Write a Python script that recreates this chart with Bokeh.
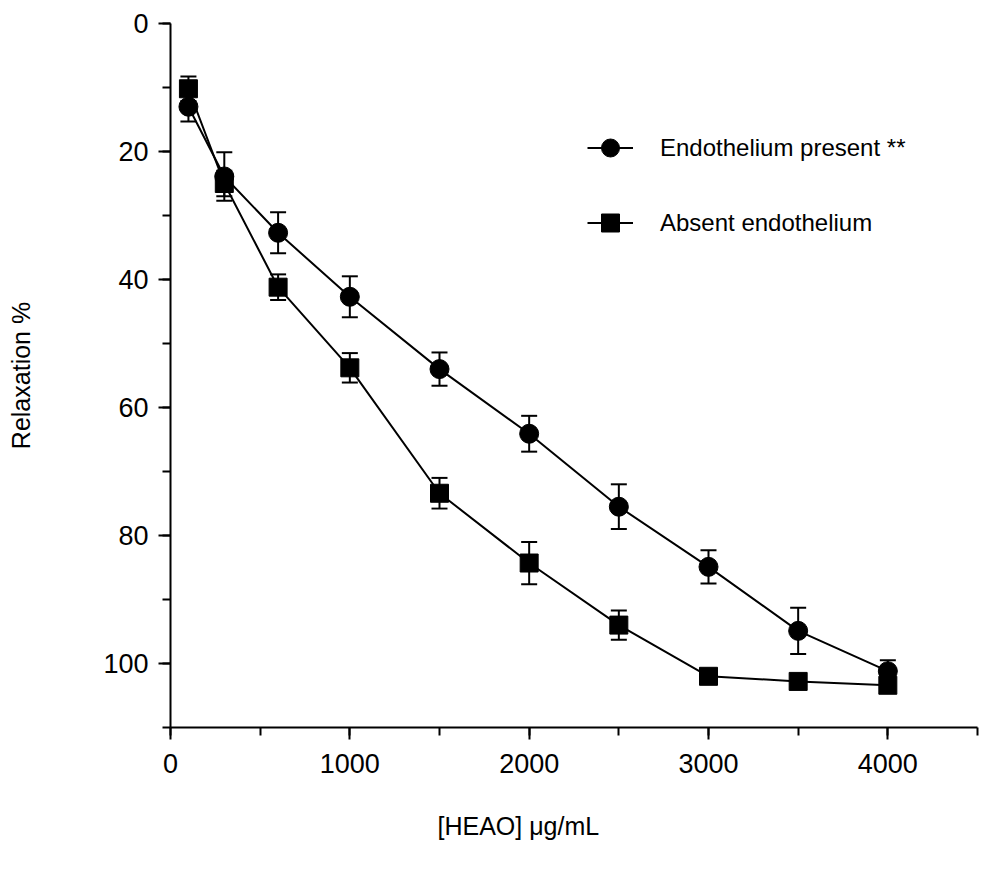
from bokeh.plotting import figure
from bokeh.models import (ColumnDataSource, Range1d, SingleIntervalTicker, Whisker, TeeHead,
                          Legend, LegendItem, Title)
from bokeh.embed import file_html
from bokeh.resources import INLINE

# ---- data ----
conc = [100, 300, 600, 1000, 1500, 2000, 2500, 3000, 3500, 4000]
present_mean = [13.0, 23.9, 32.7, 42.7, 54.0, 64.1, 75.5, 84.9, 94.9, 101.2]
present_err = [2.3, 3.8, 3.2, 3.2, 2.6, 2.8, 3.5, 2.6, 3.6, 1.7]
absent_mean = [10.2, 25.0, 41.2, 53.8, 73.4, 84.3, 94.0, 102.0, 102.8, 103.4]
absent_err = [1.9, 2.0, 2.0, 2.3, 2.4, 3.3, 2.3, 0.0, 0.0, 0.0]
present_label = "Endothelium present **"
absent_label = "Absent endothelium"
x_title = "[HEAO] μg/mL"
y_title = "Relaxation %"

FONT = "Liberation Sans"

p = figure(width=1007, height=877, output_backend="svg", toolbar_location=None,
           x_range=Range1d(0, 4500), y_range=Range1d(110, 0))
p.min_border_left = 170
p.min_border_right = 30
p.min_border_top = 23
p.min_border_bottom = 150
p.outline_line_color = None
p.xgrid.visible = False
p.ygrid.visible = False
p.background_fill_color = "white"
p.border_fill_color = "white"

src_p = ColumnDataSource(dict(x=conc, y=present_mean,
                              lo=[m - e for m, e in zip(present_mean, present_err)],
                              hi=[m + e for m, e in zip(present_mean, present_err)]))
src_a = ColumnDataSource(dict(x=conc, y=absent_mean,
                              lo=[m - e for m, e in zip(absent_mean, absent_err)],
                              hi=[m + e for m, e in zip(absent_mean, absent_err)]))

for src in (src_p, src_a):
    w = Whisker(source=src, base="x", upper="hi", lower="lo", line_color="black", line_width=2,
                upper_head=TeeHead(size=16, line_width=2, line_color="black"),
                lower_head=TeeHead(size=16, line_width=2, line_color="black"))
    p.add_layout(w)

lp = p.line("x", "y", source=src_p, line_color="black", line_width=2)
sp = p.scatter("x", "y", source=src_p, marker="circle", size=19, fill_color="black", line_color="black")
la = p.line("x", "y", source=src_a, line_color="black", line_width=2)
sa = p.scatter("x", "y", source=src_a, marker="square", size=18, fill_color="black", line_color="black")

# axes
p.xaxis.ticker = SingleIntervalTicker(interval=1000, num_minor_ticks=2)
p.yaxis.ticker = SingleIntervalTicker(interval=20, num_minor_ticks=2)
for ax in (p.xaxis[0], p.yaxis[0]):
    ax.axis_line_width = 2
    ax.axis_line_color = "black"
    ax.major_tick_line_width = 2
    ax.minor_tick_line_width = 2
    ax.major_tick_line_color = "black"
    ax.minor_tick_line_color = "black"
    ax.major_tick_out = 12
    ax.major_tick_in = 0
    ax.minor_tick_out = 8
    ax.minor_tick_in = 0
    ax.major_label_text_font = FONT
    ax.major_label_text_font_size = "27px"
    ax.major_label_text_color = "black"
p.xaxis.major_label_standoff = 14
p.yaxis.major_label_standoff = 10

p.yaxis.axis_label = y_title
p.yaxis.axis_label_text_font = FONT
p.yaxis.axis_label_text_font_size = "25px"
p.yaxis.axis_label_text_font_style = "normal"
p.yaxis.axis_label_text_color = "black"
p.yaxis.axis_label_standoff = 65

xt = Title(text=x_title, align="left", offset=267, standoff=69,
           text_font=FONT, text_font_size="25px", text_font_style="normal", text_color="black")
p.add_layout(xt, "below")

legend = Legend(items=[LegendItem(label=present_label, renderers=[lp, sp]),
                       LegendItem(label=absent_label, renderers=[la, sa])],
                location=(417, 482))
legend.glyph_width = 46
legend.glyph_height = 45
legend.label_height = 45
legend.spacing = 30
legend.label_standoff = 27
legend.padding = 0
legend.margin = 0
legend.border_line_color = None
legend.background_fill_alpha = 0
legend.label_text_font = FONT
legend.label_text_font_size = "24px"
legend.label_text_color = "black"
p.add_layout(legend)

open("out.html", "w").write(file_html(p, INLINE))
